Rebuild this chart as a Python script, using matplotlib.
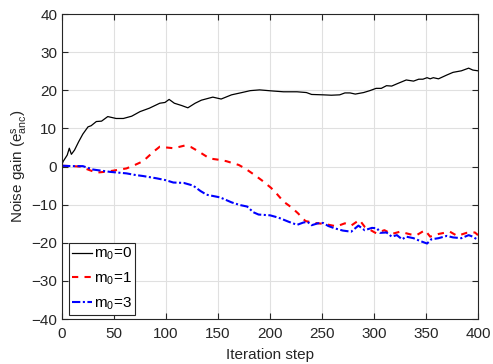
import numpy as np
import matplotlib
matplotlib.use('Agg')
import matplotlib.pyplot as plt

# ==============================
# data
# ==============================
steps_m0 = [0, 1, 5, 7, 9, 12, 16, 20, 25, 28, 33, 38, 44, 52, 59, 67, 75, 84, 94, 99,
            103, 108, 115, 121, 128, 134, 145, 153, 163, 173, 181, 190, 203, 213, 226,
            235, 240, 251, 259, 267, 272, 277, 282, 290, 296, 302, 307, 312, 317, 323,
            331, 338, 343, 347, 351, 354, 357, 362, 370, 376, 384, 391, 395, 400]
gain_m0 = [0.5, 1.3, 3.0, 4.8, 3.2, 4.3, 6.5, 8.5, 10.4, 10.7, 11.8, 11.9, 13.1, 12.6,
           12.6, 13.2, 14.4, 15.3, 16.6, 16.8, 17.6, 16.6, 16.0, 15.4, 16.6, 17.4,
           18.2, 17.7, 18.8, 19.4, 19.9, 20.1, 19.8, 19.6, 19.6, 19.4, 18.9, 18.8,
           18.7, 18.8, 19.3, 19.3, 19.0, 19.4, 19.9, 20.5, 20.5, 21.2, 21.1, 21.8,
           22.7, 22.4, 22.9, 22.9, 23.3, 23.0, 23.3, 23.0, 24.0, 24.7, 25.1, 25.8,
           25.3, 25.1]

steps_m1 = [0, 17, 25, 33, 41, 49, 62, 70, 78, 88, 94, 100, 107, 112, 118, 124, 131,
            142, 150, 158, 170, 176, 184, 192, 201, 206, 213, 221, 227, 234, 243, 253,
            264, 272, 278, 286, 291, 302, 310, 317, 325, 335, 341, 349, 354, 362, 373,
            380, 389, 397, 400]
gain_m1 = [0.2, 0.0, -0.8, -1.6, -1.4, -1.1, -0.5, 0.4, 1.4, 3.9, 5.2, 5.0, 4.8, 5.1,
           5.5, 5.1, 4.0, 2.1, 1.8, 1.4, 0.4, -0.5, -2.0, -3.6, -5.6, -7.0, -9.2, -10.8,
           -12.3, -14.3, -14.8, -15.1, -15.7, -14.9, -15.5, -14.0, -15.8, -17.5, -16.7,
           -17.7, -17.1, -17.8, -18.0, -16.7, -18.4, -17.7, -17.1, -18.2, -17.4, -17.3,
           -18.0]

steps_m3 = [0, 10, 20, 30, 38, 46, 54, 62, 70, 78, 91, 100, 107, 117, 126, 133, 139,
            152, 163, 171, 178, 184, 189, 200, 208, 218, 226, 232, 236, 240, 246, 251,
            256, 262, 270, 278, 285, 291, 298, 303, 306, 312, 317, 322, 327, 331, 338,
            344, 351, 355, 362, 370, 376, 384, 391, 395, 400]
gain_m3 = [0.2, 0.1, 0.1, -0.8, -1.1, -1.4, -1.6, -1.8, -2.2, -2.5, -3.1, -3.6, -4.2,
           -4.3, -5.0, -6.4, -7.4, -8.1, -9.4, -10.1, -10.5, -12.0, -12.6, -12.8, -13.4,
           -14.5, -15.3, -14.7, -14.5, -15.4, -14.9, -14.8, -15.6, -16.2, -16.8, -17.1,
           -15.5, -16.7, -16.1, -16.2, -17.4, -17.3, -18.4, -18.0, -19.1, -18.4, -18.8,
           -19.5, -20.2, -19.1, -18.8, -18.2, -18.6, -18.8, -18.0, -18.4, -19.3]

labels = ['m$_0$=0', 'm$_0$=1', 'm$_0$=3']

# ==============================
# style (MATLAB-like)
# ==============================
plt.rcParams.update({
    "font.family": ["Liberation Sans", "DejaVu Sans"],
    "font.size": 11,
    "mathtext.fontset": "custom",
    "mathtext.rm": "Liberation Sans",
    "mathtext.it": "Liberation Sans",
    "mathtext.default": "regular",
    "axes.edgecolor": "#262626",
    "axes.linewidth": 0.8,
    "xtick.color": "#262626",
    "ytick.color": "#262626",
    "xtick.direction": "in",
    "ytick.direction": "in",
    "xtick.top": True,
    "ytick.right": True,
    "xtick.major.size": 4,
    "ytick.major.size": 4,
    "xtick.major.pad": 6,
    "ytick.major.pad": 3.5,
})

fig = plt.figure(figsize=(4.93, 3.64), dpi=100)
ax = fig.add_axes([0.1258, 0.1236, 0.8438, 0.8379])

ax.plot(steps_m0, gain_m0, color='black', linewidth=0.9, linestyle='-', label=labels[0])
ax.plot(steps_m1, gain_m1, color='#FF0000', linewidth=1.5, linestyle=(0, (3, 3)), label=labels[1])
ax.plot(steps_m3, gain_m3, color='#0000FF', linewidth=1.5, linestyle=(0, (4, 1.2, 1, 1.2)), label=labels[2])

ax.set_xlim(0, 400)
ax.set_ylim(-40, 40)
ax.set_xticks(np.arange(0, 401, 50))
ax.set_yticks(np.arange(-40, 41, 10))
ax.grid(True, color='#e0e0e0', linewidth=0.8)
ax.set_axisbelow(True)

ax.set_xlabel('Iteration step', color='#262626', labelpad=5)
ax.set_ylabel('Noise gain (e$_{anc}^{s}$)', color='#262626', labelpad=1)

leg = ax.legend(loc='lower left', bbox_to_anchor=(0.017, 0.013), fancybox=False,
                framealpha=1, edgecolor='#262626', handlelength=1.3, handletextpad=0.15,
                borderpad=0.2, labelspacing=0.55, borderaxespad=0)
leg.get_frame().set_linewidth(0.8)

fig.savefig('out.png', dpi=100)
